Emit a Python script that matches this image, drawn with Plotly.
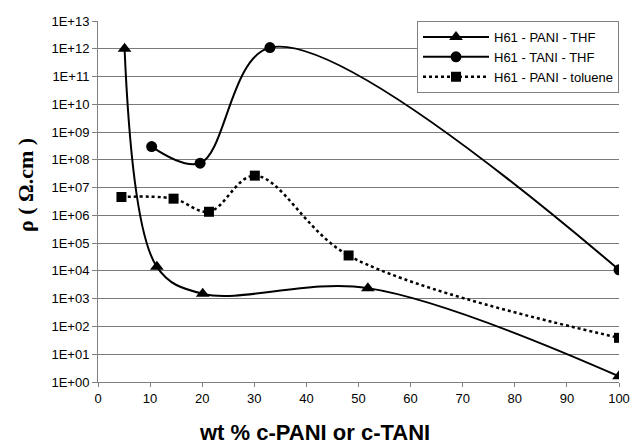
import plotly.graph_objects as go

# Data
pani_thf_x = [5.1, 11.3, 20.1, 51.8, 100]
pani_thf_y = [1.0e12, 1.4e4, 1.5e3, 2.4e3, 1.6]

tani_thf_x = [10.3, 19.6, 33.0, 100]
tani_thf_y = [3.0e8, 7.6e7, 1.1e12, 1.1e4]

pani_tol_x = [4.5, 14.5, 21.3, 30.1, 48.1, 100]
pani_tol_y = [4.6e6, 4.0e6, 1.35e6, 2.7e7, 3.6e4, 39]

y_tick_vals = [10 ** k for k in range(0, 14)]
y_tick_text = ["1E+%02d" % k for k in range(0, 14)]
x_tick_vals = list(range(0, 101, 10))

fig = go.Figure()
fig.add_trace(go.Scatter(
    x=pani_thf_x, y=pani_thf_y, name="H61 - PANI - THF",
    mode="lines+markers", line=dict(color="black", width=2, shape="spline", smoothing=1),
    marker=dict(symbol="triangle-up", size=12, color="black")))
fig.add_trace(go.Scatter(
    x=tani_thf_x, y=tani_thf_y, name="H61 - TANI - THF",
    mode="lines+markers", line=dict(color="black", width=2, shape="spline", smoothing=1),
    marker=dict(symbol="circle", size=11, color="black")))
fig.add_trace(go.Scatter(
    x=pani_tol_x, y=pani_tol_y, name="H61 - PANI - toluene",
    mode="lines+markers", line=dict(color="black", width=2.5, dash="dot", shape="spline", smoothing=1),
    marker=dict(symbol="square", size=10, color="black")))

fig.update_layout(
    width=642, height=446,
    margin=dict(l=98, r=14, t=21, b=64),
    paper_bgcolor="white", plot_bgcolor="white",
    font=dict(family="Liberation Sans, Arial", size=13, color="black"),
    showlegend=True,
    legend=dict(x=1, y=1, xanchor="right", yanchor="top",
                bordercolor="#808080", borderwidth=1, bgcolor="white",
                font=dict(size=13), itemwidth=66, tracegroupgap=0,
                entrywidth=200, entrywidthmode="pixels"),
    xaxis=dict(range=[0, 100], tickvals=x_tick_vals, ticks="outside", ticklen=4,
               tickcolor="#808080", showline=True, linecolor="#808080", linewidth=1,
               showgrid=False, zeroline=False, tickfont=dict(size=13)),
    yaxis=dict(type="log", range=[0, 13], tickvals=y_tick_vals, ticktext=y_tick_text,
               ticks="outside", ticklen=5, tickcolor="#808080",
               showline=True, linecolor="#808080", linewidth=1,
               showgrid=True, gridcolor="#7a7a7a", gridwidth=1,
               zeroline=False, tickfont=dict(size=13)),
)

fig.add_annotation(text="<b>wt % c-PANI or c-TANI</b>", xref="paper", yref="paper",
                   x=(318 - 98) / 530, y=-(433 - 382.5) / 361.5, xanchor="center", yanchor="middle",
                   showarrow=False, font=dict(family="Liberation Sans, Arial", size=22))
fig.add_annotation(text="<b>ρ ( Ω.cm )</b>", xref="paper", yref="paper",
                   x=(25 - 98) / 530, y=(382.5 - 185) / 361.5, xanchor="center", yanchor="middle",
                   textangle=-90, showarrow=False,
                   font=dict(family="Liberation Serif, Times New Roman", size=22))

fig.write_html("out.html")
